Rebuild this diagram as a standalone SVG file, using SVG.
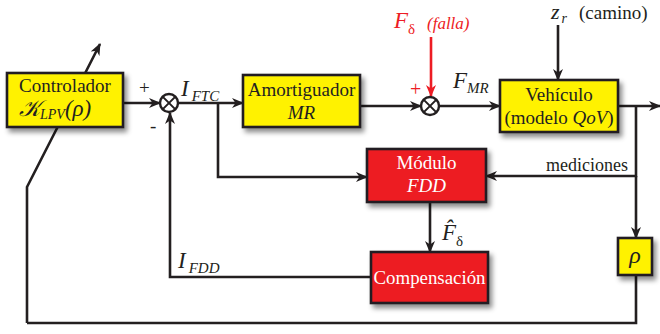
<svg xmlns="http://www.w3.org/2000/svg" width="660" height="334" viewBox="0 0 660 334">
<style>
.box{stroke:#231f20;stroke-width:2.6;filter:url(#sh)}
.y{fill:#fff200}
.r{fill:#ed1c24}
text{font-family:"Liberation Serif","Times New Roman","DejaVu Serif",serif;font-size:19px;fill:#231f20}
.w{fill:#fff}
.i{font-style:italic}
.ln{fill:none;stroke:#231f20;stroke-width:2.6}
.ar{marker-end:url(#ah)}
.sum{fill:#fff;stroke:#231f20;stroke-width:2.4}
</style>
<defs>
<filter id="sh" x="-20%" y="-20%" width="150%" height="160%">
<feDropShadow dx="3" dy="4" stdDeviation="2.5" flood-color="#000" flood-opacity="0.45"/>
</filter>
<marker id="ah" markerWidth="12" markerHeight="10" refX="11" refY="5" orient="auto" markerUnits="userSpaceOnUse">
<path d="M0,0 L12,5 L0,10 L3.5,5 z" fill="#231f20"/>
</marker>
<marker id="ahr" markerWidth="12" markerHeight="10" refX="11" refY="5" orient="auto" markerUnits="userSpaceOnUse">
<path d="M0,0 L12,5 L0,10 L3.5,5 z" fill="#ed1c24"/>
</marker>
</defs>

<g id="connectors">
<path class="ln ar" d="M27,323 L27,187 L100,44"/>
<path class="ln ar" d="M123,103 L160,103"/>
<path class="ln ar" d="M178,103 L243,103"/>
<path class="ln ar" d="M218,103 L218,177 L367,177"/>
<path class="ln ar" d="M360,106 L421,106"/>
<path class="ln ar" d="M439,106 L500,106"/>
<path class="ln ar" d="M558,25 L558,80"/>
<path d="M431,37 L431,96" fill="none" stroke="#ed1c24" stroke-width="2.6" marker-end="url(#ahr)"/>
<path class="ln ar" d="M618,106 L660,106"/>
<path class="ln ar" d="M636,106 L636,176 L486,176"/>
<path class="ln ar" d="M636,176 L636,238"/>
<path class="ln" d="M636,275 L636,323 L27,323"/>
<path class="ln ar" d="M430,202 L430,252"/>
<path class="ln ar" d="M371,277 L170,277 L170,113"/>
</g>

<g id="sum1">
<circle class="sum" cx="169" cy="103" r="9"/>
<path class="ln" d="M162.6,96.6 L175.4,109.4 M175.4,96.6 L162.6,109.4" style="stroke-width:2"/>
<text x="139" y="94" font-size="20">+</text>
<text x="150" y="132" font-size="20">-</text>
</g>

<g id="sum2">
<circle class="sum" cx="430" cy="106" r="9"/>
<path class="ln" d="M423.6,99.6 L436.4,112.4 M436.4,99.6 L423.6,112.4" style="stroke-width:2"/>
<text x="410" y="96" style="font-size:20px;fill:#ed1c24">+</text>
</g>

<g id="controlador">
<rect class="box y" x="7" y="73" width="116" height="54"/>
<text x="65" y="92" text-anchor="middle">Controlador</text>
<text class="i" x="19" y="116" style="font-size:23px">𝒦<tspan style="font-size:14px" dy="3">LPV</tspan><tspan dy="-3" style="font-size:23px">(ρ)</tspan></text>
</g>

<g id="amortiguador">
<rect class="box y" x="243" y="75" width="117" height="52"/>
<text x="301.5" y="96" text-anchor="middle">Amortiguador</text>
<text class="i" x="301.5" y="119" text-anchor="middle">MR</text>
</g>

<g id="vehiculo">
<rect class="box y" x="500" y="80" width="118" height="52"/>
<text x="559" y="101" text-anchor="middle">Vehículo</text>
<text x="559" y="124" text-anchor="middle">(modelo <tspan class="i">QoV</tspan>)</text>
</g>

<g id="fdd">
<rect class="box r" x="367" y="149" width="119" height="53"/>
<text class="w" x="426.5" y="169" text-anchor="middle">Módulo</text>
<text class="w i" x="426.5" y="192" text-anchor="middle">FDD</text>
</g>

<g id="compensacion">
<rect class="box r" x="371" y="252" width="117" height="51"/>
<text class="w" x="429.5" y="284" text-anchor="middle" textLength="112" lengthAdjust="spacingAndGlyphs">Compensación</text>
</g>

<g id="rho">
<rect class="box y" x="618" y="238" width="34" height="37"/>
<text class="i" x="635" y="263" text-anchor="middle" style="font-size:24px">ρ</text>
</g>

<g id="labels">
<text class="i" x="181" y="96" style="font-size:23px">I<tspan dy="5" dx="3" style="font-size:15px">FTC</tspan></text>
<text class="i" x="453" y="88" style="font-size:23px">F<tspan dy="5" style="font-size:15px">MR</tspan></text>
<text class="i" x="394" y="28" style="font-size:23px;fill:#ed1c24">F<tspan dy="6" style="font-size:15px;font-style:normal">δ</tspan><tspan dy="-5" x="427" style="font-size:17px">(falla)</tspan></text>
<text class="i" x="551" y="19" style="font-size:22px">z<tspan dy="4" dx="2" style="font-size:14px">r</tspan><tspan dy="-4" x="579" style="font-style:normal;font-size:19px">(camino)</tspan></text>
<text x="628" y="171" text-anchor="end" style="font-size:18px">mediciones</text>
<text class="i" x="442" y="240" style="font-size:23px">F̂<tspan dy="6" style="font-size:15px;font-style:normal">δ</tspan></text>
<text class="i" x="178" y="268" style="font-size:23px">I<tspan dy="5" dx="3" style="font-size:15px">FDD</tspan></text>
</g>
</svg>
